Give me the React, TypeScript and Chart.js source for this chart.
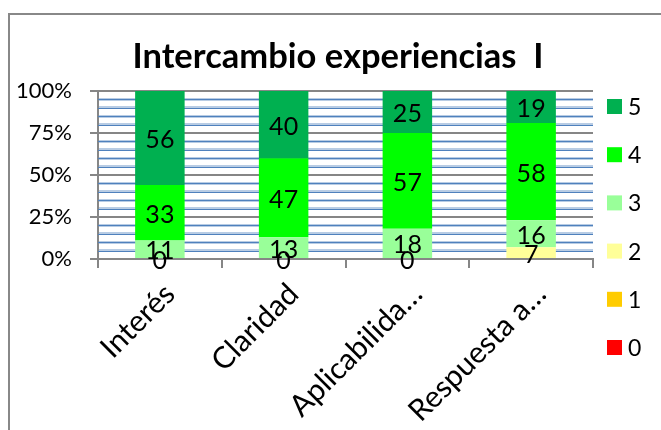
import React, { useEffect, useRef } from "react";
import { Chart, registerables } from "chart.js";

Chart.register(...registerables);

const titleText = "Intercambio experiencias  I";
const categories = ["Interés", "Claridad", "Aplicabilida…", "Respuesta a…"];
const seriesNames = ["0", "1", "2", "3", "4", "5"];
const values0: (number | null)[] = [null, null, null, null];
const values1: (number | null)[] = [null, null, null, null];
const values2: (number | null)[] = [0, 0, 0, 7];
const values3: (number | null)[] = [11, 13, 18, 16];
const values4: (number | null)[] = [33, 47, 57, 58];
const values5: (number | null)[] = [56, 40, 25, 19];
const seriesColors = ["#ff0000", "#ffcc00", "#ffff99", "#99ff99", "#00ff00", "#00b050"];
const majorStep = 25;
const minorStep = 5;

const FONT = "Lato, 'Open Sans', 'DejaVu Sans', sans-serif";
const GRAY = "#868686";

const labelPlugin = {
  id: "segmentLabels",
  afterDatasetsDraw(chart: any) {
    const ctx = chart.ctx;
    ctx.save();
    ctx.font = `25px ${FONT}`;
    ctx.fillStyle = "#000";
    ctx.textAlign = "center";
    ctx.textBaseline = "middle";
    chart.data.datasets.forEach((ds: any, i: number) => {
      const meta = chart.getDatasetMeta(i);
      meta.data.forEach((el: any, j: number) => {
        const v = ds.data[j];
        if (v === null || v === undefined) return;
        const p = el.getProps(["x", "y", "base"], true);
        ctx.fillText(String(v), p.x, (p.y + p.base) / 2 + 2);
      });
    });
    ctx.restore();
  },
};

const minorGridPlugin = {
  id: "minorGrid",
  beforeDatasetsDraw(chart: any) {
    const ctx = chart.ctx;
    const ys = chart.scales.y;
    const { left, right } = chart.chartArea;
    ctx.save();
    ctx.strokeStyle = "#4f81bd";
    ctx.lineWidth = 1;
    ys.ticks.forEach((t: any) => {
      if (t.value % majorStep === 0) return;
      const y = Math.round(ys.getPixelForValue(t.value)) + 0.5;
      ctx.beginPath();
      ctx.moveTo(left, y);
      ctx.lineTo(right, y);
      ctx.stroke();
    });
    ctx.restore();
  },
};

const legendPlugin = {
  id: "sideLegend",
  afterDraw(chart: any) {
    const ctx = chart.ctx;
    const n = chart.data.datasets.length;
    ctx.save();
    ctx.font = `23px ${FONT}`;
    ctx.textAlign = "left";
    ctx.textBaseline = "middle";
    for (let k = 0; k < n; k++) {
      const ds = chart.data.datasets[n - 1 - k];
      const cy = 106.5 + k * 48.2;
      ctx.fillStyle = ds.backgroundColor;
      ctx.fillRect(607, cy - 7.5, 15, 15);
      ctx.fillStyle = "#000";
      ctx.fillText(ds.label, 628, cy + 1);
    }
    ctx.restore();
  },
};

export default function App() {
  const ref = useRef<HTMLCanvasElement | null>(null);
  useEffect(() => {
    if (!ref.current) return;
    const seriesValues = [values0, values1, values2, values3, values4, values5];
    const chart = new Chart(ref.current, {
      type: "bar",
      data: {
        labels: categories,
        datasets: seriesNames.map((name, i) => ({
          label: name,
          data: seriesValues[i],
          backgroundColor: seriesColors[i],
          borderWidth: 0,
          barPercentage: 0.4,
          categoryPercentage: 1,
        })),
      },
      options: {
        responsive: false,
        animation: false,
        devicePixelRatio: 1,
        layout: { padding: { left: 15, right: 0, top: 0, bottom: 0 } },
        plugins: {
          legend: { display: false },
          tooltip: { enabled: false },
          title: {
            display: true,
            text: titleText,
            color: "#000",
            font: { family: FONT, size: 34.5, weight: "bold", lineHeight: 1.2 },
            padding: { top: 36.3, bottom: 13.3 },
          },
        },
        scales: {
          x: {
            stacked: true,
            afterFit: (s: any) => {
              s.height = 171;
            },
            grid: {
              drawOnChartArea: false,
              drawTicks: true,
              tickLength: 9,
              color: GRAY,
              lineWidth: 2,
            },
            border: { color: GRAY, width: 2 },
            ticks: {
              autoSkip: false,
              minRotation: 45,
              maxRotation: 45,
              padding: 10.5,
              labelOffset: 10,
              color: "#000",
              font: { family: FONT, size: 30, lineHeight: 1 },
            },
          },
          y: {
            stacked: true,
            min: 0,
            max: 100,
            afterFit: (s: any) => {
              s.width = 83;
            },
            grid: {
              color: (c: any) => (c.tick && c.tick.value % majorStep === 0 ? GRAY : "#b8cce4"),
              lineWidth: (c: any) => (c.tick && c.tick.value % majorStep === 0 ? 2 : 3),
              tickColor: (c: any) => (c.tick && c.tick.value % majorStep === 0 ? GRAY : "rgba(0,0,0,0)"),
              tickLength: 8,
              drawTicks: true,
            },
            border: { color: GRAY, width: 2 },
            ticks: {
              stepSize: minorStep,
              autoSkip: false,
              padding: 18,
              color: "#000",
              font: { family: FONT, size: 22 },
              callback: (v: any) => (Number(v) % majorStep === 0 ? `${v}%` : ""),
            },
          },
          legendSpace: {
            type: "linear",
            position: "right",
            display: true,
            afterFit: (s: any) => {
              s.width = 68;
            },
            grid: { display: false, drawTicks: false },
            border: { display: false },
            ticks: { display: false },
          },
        },
      },
      plugins: [minorGridPlugin, labelPlugin, legendPlugin],
    } as any);
    return () => chart.destroy();
  }, []);

  return (
    <div
      style={{
        position: "fixed",
        left: 0,
        top: 0,
        width: 661,
        height: 430,
        overflow: "hidden",
        background: "#fff",
      }}
    >
      <div
        style={{
          position: "absolute",
          left: 8,
          top: 13,
          width: 800,
          height: 600,
          border: "2px solid #888",
          boxSizing: "border-box",
        }}
      />
      <canvas
        ref={ref}
        width={661}
        height={430}
        style={{ position: "absolute", left: 0, top: 0, width: 661, height: 430 }}
      />
    </div>
  );
}
